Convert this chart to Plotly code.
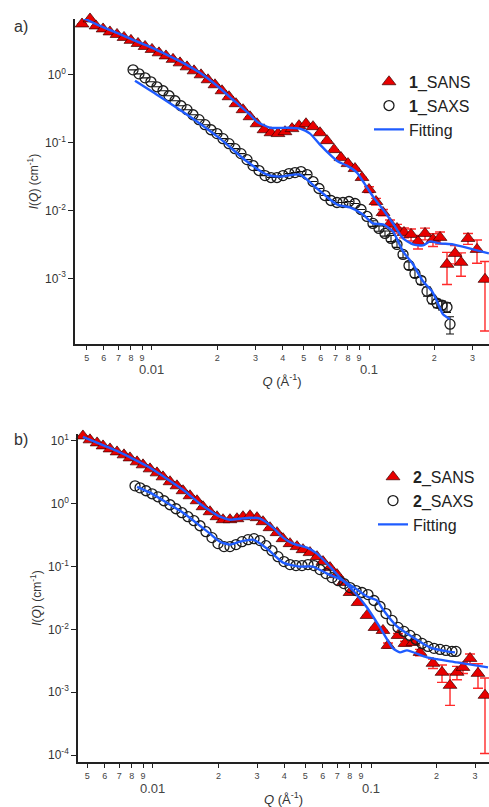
import math
import plotly.graph_objects as go

# ---------------- panel a) : sample 1 ----------------
q_sans1 = [0.00476, 0.00518, 0.00552, 0.00595, 0.00640, 0.00690, 0.00743, 0.00800, 0.00862, 0.00929,
           0.0100, 0.01077, 0.01160, 0.01250, 0.01346, 0.01450, 0.01562, 0.01682, 0.01812, 0.01951,
           0.02102, 0.02264, 0.02438, 0.02627, 0.02829, 0.03048, 0.03282, 0.03535, 0.03808, 0.04102,
           0.04418, 0.04758, 0.05125, 0.05520, 0.05945, 0.06405, 0.06898, 0.07430, 0.08002, 0.08619,
           0.09284, 0.1000, 0.1077, 0.1160, 0.1250, 0.1346, 0.1450, 0.1562, 0.1682, 0.1812,
           0.1972, 0.2125, 0.2288, 0.2491, 0.2655, 0.2859, 0.3146, 0.3424]
i_sans1 = [5.62, 6.66, 5.26, 4.75, 4.29, 3.94, 3.56, 3.22, 2.90, 2.62,
           2.37, 2.11, 1.90, 1.69, 1.50, 1.31, 1.145, 1.00, 0.845, 0.713,
           0.582, 0.475, 0.375, 0.306, 0.241, 0.190, 0.155, 0.140, 0.136, 0.145,
           0.161, 0.178, 0.190, 0.172, 0.140, 0.107, 0.0789, 0.0602, 0.0491, 0.0415,
           0.0306, 0.0204, 0.01357, 0.00935, 0.00644, 0.00543, 0.00475, 0.00444, 0.00350, 0.00459,
           0.00375, 0.00401, 0.00161, 0.00233, 0.00172, 0.00387, 0.00267, 0.000967]
e_sans1 = [0, 0, 0, 0, 0, 0, 0, 0, 0, 0,
           0, 0, 0, 0, 0, 0, 0, 0, 0, 0,
           0, 0, 0, 0, 0, 0, 0, 0, 0, 0,
           0, 0, 0, 0, 0, 0, 0, 0, 0, 0,
           0, 0.002, 0.0015, 0.001, 0.0008, 0.0008, 0.0008, 0.0009, 0.0008, 0.0009,
           0.0008, 0.0008, 0.0008, 0.0007, 0.00065, 0.0007, 0.001, 0.0008]

q_saxs1 = [0.00818, 0.00871, 0.00929, 0.00989, 0.01054, 0.01124, 0.01198, 0.01276, 0.01360, 0.01450,
           0.01545, 0.01647, 0.01755, 0.01870, 0.01993, 0.02124, 0.02264, 0.02413, 0.02571, 0.02741,
           0.02921, 0.03113, 0.03318, 0.03535, 0.03767, 0.04016, 0.04279, 0.04560, 0.04861, 0.05180,
           0.05520, 0.05883, 0.06269, 0.06681, 0.07120, 0.07588, 0.08087, 0.08619, 0.09186, 0.09790,
           0.1043, 0.1112, 0.1185, 0.1263, 0.1346, 0.1435, 0.1529, 0.1629, 0.1736, 0.1851,
           0.1952, 0.2058, 0.2170, 0.2288, 0.2362]
i_saxs1 = [1.184, 1.034, 0.903, 0.789, 0.666, 0.582, 0.491, 0.415, 0.350, 0.306,
           0.258, 0.218, 0.184, 0.155, 0.136, 0.1145, 0.0967, 0.0816, 0.0689, 0.0562,
           0.0459, 0.0388, 0.0327, 0.0306, 0.0306, 0.0327, 0.0350, 0.0362, 0.0375, 0.0338,
           0.0267, 0.0211, 0.0166, 0.01403, 0.01311, 0.01311, 0.01357, 0.01268, 0.01034, 0.00816,
           0.00644, 0.00544, 0.00459, 0.00387, 0.00316, 0.00225, 0.00155, 0.00118, 0.000935, 0.000644,
           0.000491, 0.000429, 0.000401, 0.000375, 0.000211]
e_saxs1 = [0, 0, 0, 0, 0, 0, 0, 0, 0, 0,
           0, 0, 0, 0, 0, 0, 0, 0, 0, 0,
           0, 0, 0, 0, 0, 0, 0, 0, 0, 0,
           0, 0, 0, 0, 0, 0, 0, 0, 0, 0,
           0.0006, 0.0005, 0.0004, 0.0004, 0.0003, 0.00025, 0.0002, 0.00015, 0.00012, 0.0001,
           0.00007, 0.00006, 0.00006, 0.00006, 0.00006]

q_fit_sans1 = [0.00481, 0.00576, 0.00690, 0.00818, 0.00979, 0.01172, 0.01389, 0.01664, 0.01993, 0.02362,
               0.02829, 0.03048, 0.03498, 0.04190, 0.04809, 0.05347, 0.05945, 0.06611, 0.07196, 0.07914,
               0.08801, 0.09790, 0.1043, 0.1160, 0.1290, 0.1435, 0.1595, 0.1774, 0.1911, 0.2125,
               0.2439, 0.3015, 0.357]
i_fit_sans1 = [6.89, 5.26, 4.15, 3.27, 2.58, 1.97, 1.50, 1.07, 0.689, 0.429,
               0.258, 0.204, 0.166, 0.166, 0.161, 0.136, 0.0934, 0.0666, 0.0526, 0.0459,
               0.0362, 0.0218, 0.0161, 0.01035, 0.00644, 0.00387, 0.00316, 0.00306, 0.00350, 0.00327,
               0.00316, 0.00267, 0.00233]

q_fit_saxs1 = [0.00835, 0.01089, 0.01545, 0.02058, 0.02741, 0.03388, 0.03890, 0.04809, 0.05759, 0.07120,
               0.08170, 0.09384, 0.1043, 0.1160, 0.1290, 0.1435, 0.1595, 0.1774, 0.1952, 0.2058,
               0.2193, 0.2362]
i_fit_saxs1 = [0.816, 0.475, 0.225, 0.1145, 0.0526, 0.0338, 0.0316, 0.0338, 0.0211, 0.01225,
               0.01107, 0.00873, 0.00644, 0.00622, 0.00491, 0.00249, 0.00161, 0.000903, 0.000644, 0.000459,
               0.000295, 0.000249]

# ---------------- panel b) : sample 2 ----------------
q_sans2 = [0.00477, 0.00514, 0.00554, 0.00590, 0.00635, 0.00684, 0.00736, 0.00784, 0.00845, 0.00900,
           0.00969, 0.01043, 0.01111, 0.01197, 0.01288, 0.01373, 0.01478, 0.01592, 0.01696, 0.01826,
           0.01966, 0.02095, 0.02255, 0.02428, 0.02587, 0.02786, 0.03000, 0.03196, 0.03441, 0.03706,
           0.03949, 0.04251, 0.04577, 0.04876, 0.05250, 0.05653, 0.06024, 0.06486, 0.06984, 0.07440,
           0.08014, 0.08720, 0.09587, 0.1043, 0.1135, 0.1197, 0.1330, 0.1432, 0.1559, 0.1678,
           0.1925, 0.2117, 0.2304, 0.2480, 0.2642, 0.2846, 0.3096, 0.3334]
i_sans2 = [12.0, 10.4, 9.30, 8.33, 7.46, 6.69, 6.00, 5.37, 4.64, 4.16,
           3.59, 3.10, 2.68, 2.24, 1.93, 1.61, 1.34, 1.116, 0.896, 0.746,
           0.622, 0.557, 0.557, 0.578, 0.622, 0.645, 0.600, 0.518, 0.416, 0.347,
           0.278, 0.232, 0.208, 0.186, 0.167, 0.144, 0.120, 0.0964, 0.0746, 0.0557,
           0.0387, 0.0268, 0.0167, 0.01076, 0.00964, 0.00557, 0.00803, 0.00600, 0.00622, 0.00431,
           0.00289, 0.00208, 0.00129, 0.00208, 0.00249, 0.00346, 0.00200, 0.000896]
e_sans2 = [0, 0, 0, 0, 0, 0, 0, 0, 0, 0,
           0, 0, 0, 0, 0, 0, 0, 0, 0, 0,
           0, 0, 0, 0, 0, 0, 0, 0, 0, 0,
           0, 0, 0, 0, 0, 0, 0, 0, 0, 0,
           0, 0, 0, 0, 0, 0.0005, 0.0006, 0.0005, 0.0005, 0.0005,
           0.0005, 0.00064, 0.00067, 0.0005, 0.0005, 0.0006, 0.00084, 0.00079]

q_saxs2 = [0.00827, 0.00872, 0.00929, 0.00990, 0.01054, 0.01123, 0.01197, 0.01275, 0.01358, 0.01447,
           0.01542, 0.01643, 0.01750, 0.01865, 0.01987, 0.02117, 0.02255, 0.02403, 0.02560, 0.02729,
           0.02907, 0.03097, 0.03298, 0.03515, 0.03745, 0.03991, 0.04251, 0.04529, 0.04825, 0.05140,
           0.05476, 0.05836, 0.06218, 0.06625, 0.07058, 0.07519, 0.08014, 0.08538, 0.09094, 0.09688,
           0.1032, 0.1100, 0.1172, 0.1249, 0.1330, 0.1417, 0.1510, 0.1609, 0.1714, 0.1826,
           0.1946, 0.2073, 0.2208, 0.2353, 0.2454]
i_saxs2 = [1.93, 1.79, 1.61, 1.44, 1.29, 1.116, 0.964, 0.833, 0.720, 0.622,
           0.537, 0.447, 0.359, 0.289, 0.232, 0.208, 0.208, 0.224, 0.249, 0.268,
           0.278, 0.259, 0.215, 0.179, 0.144, 0.120, 0.1076, 0.1037, 0.1037, 0.1076,
           0.1037, 0.0896, 0.0774, 0.0669, 0.0600, 0.0537, 0.0464, 0.0416, 0.0387, 0.0359,
           0.0289, 0.0232, 0.0179, 0.0139, 0.01076, 0.00930, 0.00803, 0.00694, 0.00600, 0.00537,
           0.00500, 0.00481, 0.00464, 0.00447, 0.00447]

q_fit_sans2 = [0.00477, 0.00571, 0.00684, 0.00810, 0.00969, 0.01159, 0.01373, 0.01643, 0.01826, 0.02029,
               0.02255, 0.02506, 0.02786, 0.03097, 0.03552, 0.03949, 0.04387, 0.05086, 0.05653, 0.06486,
               0.07208, 0.08272, 0.09587, 0.1100, 0.1262, 0.1358, 0.1463, 0.1807, 0.2480, 0.3441]
i_fit_sans2 = [11.57, 8.96, 6.94, 5.18, 3.73, 2.49, 1.67, 1.00, 0.774, 0.622,
               0.557, 0.578, 0.600, 0.578, 0.416, 0.289, 0.232, 0.200, 0.161, 0.100,
               0.0669, 0.0416, 0.0224, 0.01076, 0.00500, 0.00431, 0.00464, 0.00359, 0.00299, 0.00249]

q_fit_saxs2 = [0.00845, 0.00969, 0.01159, 0.01373, 0.01643, 0.01826, 0.02029, 0.02255, 0.02506, 0.02876,
               0.03334, 0.03949, 0.04724, 0.05419, 0.06284, 0.07440, 0.08628, 0.09587, 0.1065, 0.1135,
               0.1316, 0.1559, 0.1865, 0.2232, 0.2428]
i_fit_saxs2 = [1.86, 1.50, 1.037, 0.720, 0.447, 0.334, 0.249, 0.224, 0.249, 0.268,
               0.193, 0.1158, 0.100, 0.100, 0.0774, 0.0600, 0.0431, 0.0334, 0.0289, 0.0208,
               0.01116, 0.00746, 0.00518, 0.00447, 0.00431]

# ---------------- tick labels ----------------
x_tick_vals = [0.005, 0.006, 0.007, 0.008, 0.009, 0.01, 0.02, 0.03, 0.04, 0.05,
               0.06, 0.07, 0.08, 0.09, 0.1, 0.2, 0.3]
x_tick_text = ["5", "6", "7", "8", "9", "", "2", "3", "4", "5",
               "6", "7", "8", "9", "", "2", "3"]
x_decade_vals = [0.01, 0.1]
x_decade_text = ["0.01", "0.1"]
y1_tick_vals = [1, 0.1, 0.01, 0.001]
y1_tick_text = ["10<sup>0</sup>", "10<sup>-1</sup>", "10<sup>-2</sup>", "10<sup>-3</sup>"]
y2_tick_vals = [10, 1, 0.1, 0.01, 0.001, 0.0001]
y2_tick_text = ["10<sup>1</sup>", "10<sup>0</sup>", "10<sup>-1</sup>", "10<sup>-2</sup>",
                "10<sup>-3</sup>", "10<sup>-4</sup>"]

RED = "#e80000"
BLUE = "#1f5cff"
FONT = "Arial, Liberation Sans, sans-serif"

fig = go.Figure()


def add_panel(xa, ya, leg, tag, q_sans, i_sans, e_sans, q_saxs, i_saxs, e_saxs,
              q_fs, i_fs, q_fx, i_fx):
    fig.add_trace(go.Scatter(
        x=q_sans, y=i_sans, mode="markers", name="<b>%s</b>_SANS" % tag,
        xaxis=xa, yaxis=ya, legend=leg, cliponaxis=False,
        marker=dict(symbol="triangle-up", size=12, color=RED,
                    line=dict(color="#3a0000", width=0.7)),
        error_y=dict(type="data", array=e_sans, color="#ff2a2a", thickness=1.4, width=5)))
    sx = dict(x=q_saxs, y=i_saxs, mode="markers", name="<b>%s</b>_SAXS" % tag,
              xaxis=xa, yaxis=ya, legend=leg, cliponaxis=False,
              marker=dict(symbol="circle-open", size=10, color="#1a1a1a",
                          line=dict(color="#1a1a1a", width=1.3)))
    if e_saxs is not None:
        sx["error_y"] = dict(type="data", array=e_saxs, color="#111111", thickness=1.1, width=4)
    fig.add_trace(go.Scatter(**sx))
    fig.add_trace(go.Scatter(
        x=q_fs, y=i_fs, mode="lines", name="Fitting", legendgroup="fit" + tag,
        xaxis=xa, yaxis=ya, legend=leg,
        line=dict(color=BLUE, width=2.4, shape="spline", smoothing=0.6)))
    fig.add_trace(go.Scatter(
        x=q_fx, y=i_fx, mode="lines", name="Fitting", legendgroup="fit" + tag,
        showlegend=False, xaxis=xa, yaxis=ya, legend=leg,
        line=dict(color=BLUE, width=2.4, shape="spline", smoothing=0.6)))


add_panel("x", "y", "legend", "1", q_sans1, i_sans1, e_sans1, q_saxs1, i_saxs1, e_saxs1,
          q_fit_sans1, i_fit_sans1, q_fit_saxs1, i_fit_saxs1)
add_panel("x2", "y2", "legend2", "2", q_sans2, i_sans2, e_sans2, q_saxs2, i_saxs2, None,
          q_fit_sans2, i_fit_sans2, q_fit_saxs2, i_fit_saxs2)

W, H = 489, 807


def xaxis(domain, rng, anchor):
    return dict(type="log", domain=domain, range=rng, anchor=anchor,
                showline=True, linecolor="#222", linewidth=1.6, mirror=False,
                ticks="outside", ticklen=4, tickwidth=1.3, tickcolor="#222",
                tickmode="array", tickvals=x_tick_vals, ticktext=x_tick_text,
                tickangle=0,
                tickfont=dict(size=9, color="#444", family=FONT),
                showgrid=False, zeroline=False,
                title=dict(text="<i>Q</i> (Å<sup>-1</sup>)", standoff=15,
                           font=dict(size=13, color="#333", family=FONT)))


def yaxis(domain, rng, anchor, vals, text):
    return dict(type="log", domain=domain, range=rng, anchor=anchor,
                showline=True, linecolor="#222", linewidth=1.6,
                ticks="outside", ticklen=5, tickwidth=1.3, tickcolor="#222",
                tickmode="array", tickvals=vals, ticktext=text,
                tickfont=dict(size=12, color="#333", family=FONT),
                showgrid=False, zeroline=False,
                title=dict(text="<i>I</i>(<i>Q</i>) (cm<sup>-1</sup>)", standoff=4,
                           font=dict(size=12, color="#333", family=FONT)))


annotations = [
    dict(text="a)", x=12 / W, y=1 - 25 / H, xref="paper", yref="paper",
         xanchor="left", yanchor="middle", showarrow=False,
         font=dict(size=16, color="#333", family=FONT)),
    dict(text="b)", x=12 / W, y=1 - 439 / H, xref="paper", yref="paper",
         xanchor="left", yanchor="middle", showarrow=False,
         font=dict(size=16, color="#333", family=FONT)),
]
# decade labels (0.01, 0.1) sit one line below the minor tick numbers;
# annotation x on a log axis is given as log10 of the data value
for xref, ypix in (("x", 368), ("x2", 788)):
    for v, t in zip(x_decade_vals, x_decade_text):
        annotations.append(dict(text=t, x=math.log10(v), y=1 - ypix / H, xref=xref, yref="paper",
                                xanchor="center", yanchor="middle", showarrow=False,
                                borderpad=0,
                                font=dict(size=13, color="#444", family=FONT)))

fig.update_layout(
    width=W, height=H,
    margin=dict(l=0, r=0, t=0, b=0),
    paper_bgcolor="white", plot_bgcolor="white",
    font=dict(family=FONT, color="#333"),
    xaxis=xaxis([75 / W, 1], [-2.3548, -0.447], "y"),
    yaxis=yaxis([1 - 343 / H, 1 - 17 / H], [-3.9706, 0.8235], "x", y1_tick_vals, y1_tick_text),
    xaxis2=xaxis([78 / W, 1], [-2.344, -0.4587], "y2"),
    yaxis2=yaxis([1 - 762 / H, 1 - 433 / H], [-4.111, 1.111], "x2", y2_tick_vals, y2_tick_text),
    legend=dict(x=369 / W, y=1 - 63 / H, xanchor="left", yanchor="top",
                font=dict(size=16, color="#222", family=FONT),
                bgcolor="rgba(0,0,0,0)", tracegroupgap=0, itemwidth=30),
    legend2=dict(x=373 / W, y=1 - 459 / H, xanchor="left", yanchor="top",
                 font=dict(size=16, color="#222", family=FONT),
                 bgcolor="rgba(0,0,0,0)", tracegroupgap=0, itemwidth=30),
    annotations=annotations,
    showlegend=True,
)

fig.write_html("out.html",
               config={"displayModeBar": False},
               post_script="document.body.style.margin='0';document.body.style.overflow='hidden';")
